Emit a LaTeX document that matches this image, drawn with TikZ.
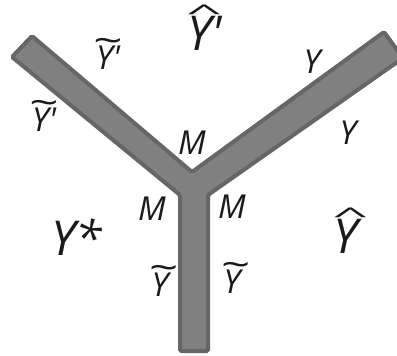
\documentclass[tikz,border=0pt]{standalone}
\usepackage{fontspec}
\usepackage{graphicx}
\newfontfamily\labfont{Open Sans}
\definecolor{armfill}{HTML}{808080}
\definecolor{armedge}{HTML}{666666}
\definecolor{txt}{HTML}{1A1A1A}
\newcommand\wtil[1]{\leavevmode\setbox0\hbox{#1}\ooalign{\copy0\cr\hidewidth\kern0.16em\raisebox{0.5em}{\scalebox{1.55}[1.1]{\textasciitilde}}\hidewidth\cr}}
\newcommand\what[1]{\leavevmode\setbox0\hbox{#1}\ooalign{\copy0\cr\hidewidth\kern0.18em\raisebox{0.62em}{\scalebox{1.35}[0.45]{\textasciicircum}}\hidewidth\cr}}
\begin{document}
\begin{tikzpicture}[x=1pt,y=-1pt,
  lab/.style={font=\labfont\itshape\fontsize{33}{33}\selectfont, text=txt, inner sep=0pt},
  biglab/.style={font=\labfont\itshape\fontsize{48}{48}\selectfont, text=txt, inner sep=0pt},
  arm/.style={fill=armfill, draw=armedge, line width=4pt, rounded corners=1.5pt}]
\useasboundingbox (0,0) rectangle (397,356);
\clip (0,0) rectangle (397,356);
\draw[arm] (32,36) -- (192,172) -- (384,32) -- (403,58) -- (208,195) -- (208,351)
  -- (180,351) -- (180,195) -- (12,57) -- cycle;
\node[lab] (ytl) at (108,58) {\wtil{Y}'};
\node[lab] (ytl2) at (44,120) {\wtil{Y}'};
\node[biglab] (yhtop) at (205,33) {\what{Y}'};
\node[lab] (yr1) at (312,62) {Y};
\node[lab] (yr2) at (348,133) {Y};
\node[lab] (mt) at (192,143) {M};
\node[lab] (ml) at (152,209) {M};
\node[lab] (mr) at (232,207) {M};
\node[lab] (ytb1) at (160,285) {\wtil{Y}};
\node[lab] (ytb2) at (232,282) {\wtil{Y}};
\node[biglab] (ystar) at (77,237) {Y*};
\node[biglab] (yhat) at (346,236) {\what{Y}};
\end{tikzpicture}
\end{document}
